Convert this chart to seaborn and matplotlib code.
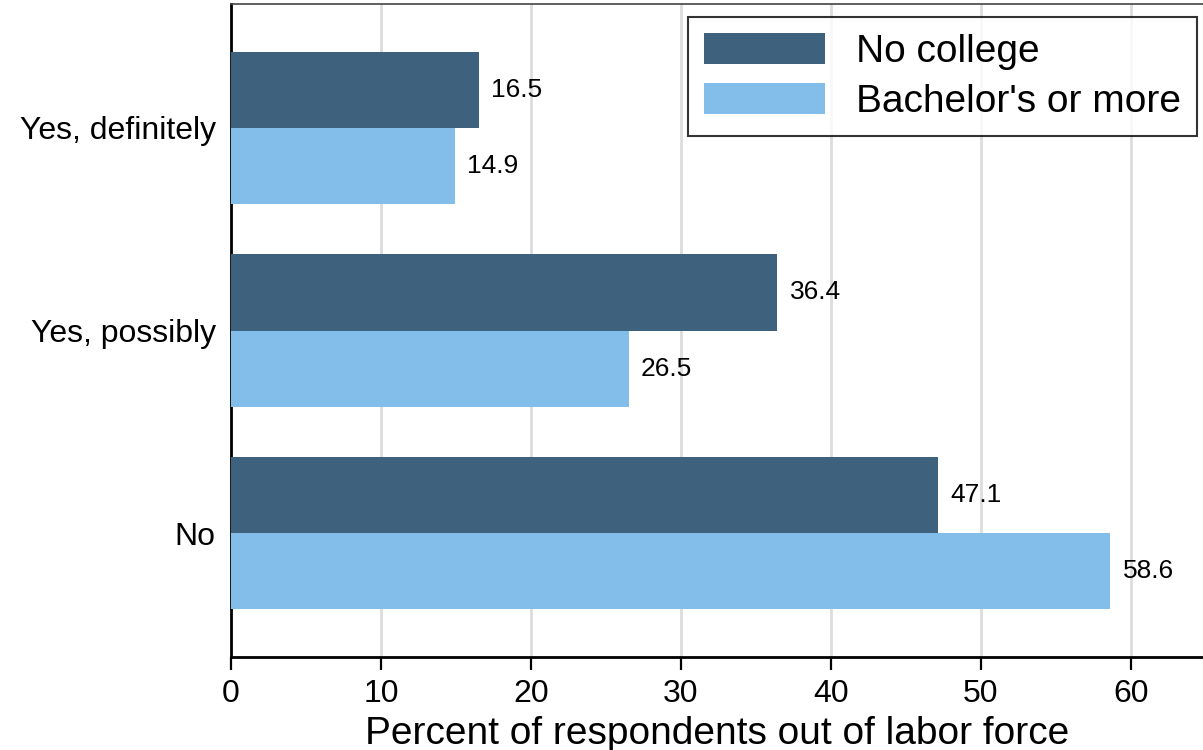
import matplotlib
matplotlib.use("Agg")
import matplotlib.pyplot as plt
import pandas as pd
import seaborn as sns

answers = ["Yes, definitely", "Yes, possibly", "No"]
groups = ["No college", "Bachelor's or more"]
no_college = [16.5, 36.4, 47.1]
bachelors = [14.9, 26.5, 58.6]
colors = ["#3E627D", "#82BEE9"]

df = pd.DataFrame({
    "answer": answers * 2,
    "group": [groups[0]] * 3 + [groups[1]] * 3,
    "value": no_college + bachelors,
})

sns.set_theme(style="white")
plt.rcParams["font.family"] = ["Liberation Sans", "DejaVu Sans"]
plt.rcParams["text.color"] = "black"
plt.rcParams["xtick.color"] = "black"
plt.rcParams["ytick.color"] = "black"
plt.rcParams["axes.labelcolor"] = "black"

fig = plt.figure(figsize=(12.03, 7.5), dpi=100)
ax = fig.add_axes([231 / 1203, 1 - 657 / 750, 1 - 231 / 1203, (657 - 4) / 750])

sns.barplot(
    data=df, x="value", y="answer", hue="group", order=answers,
    hue_order=groups, palette=colors, orient="h", width=0.75,
    saturation=1, linewidth=0, ax=ax, zorder=3,
)

for container in ax.containers:
    ax.bar_label(container, fmt="%.1f", padding=9, fontsize=19, color="black")

ax.set_xlim(0, 64.8)
ax.set_ylim(2.61, -0.61)
ax.set_xticks([0, 10, 20, 30, 40, 50, 60])
ax.grid(axis="x", color="#DDDDDD", linewidth=2, zorder=0)
ax.set_axisbelow(True)
ax.tick_params(axis="x", labelsize=23, length=9, width=1.6, direction="out",
               bottom=True, color="black", pad=7)
ax.tick_params(axis="y", labelsize=23, length=0, pad=11)
ax.set_xlabel("Percent of respondents out of labor force", fontsize=28, labelpad=5)
ax.set_ylabel("")

for side in ["left", "bottom"]:
    ax.spines[side].set_color("black")
    ax.spines[side].set_linewidth(2)
ax.spines["top"].set_color("#444444")
ax.spines["top"].set_linewidth(1.2)
ax.spines["right"].set_visible(False)

leg = ax.legend(
    loc="upper right", fontsize=28, frameon=True,
    fancybox=False, edgecolor="black", handlelength=3.1, handleheight=0.85,
    borderpad=0.42, labelspacing=0.33, handletextpad=0.8, borderaxespad=0,
)
leg.get_frame().set_linewidth(1.5)
leg.set_bbox_to_anchor((1197 / 1203, 1 - 17 / 750), transform=fig.transFigure)

fig.savefig("out.png", dpi=100)
